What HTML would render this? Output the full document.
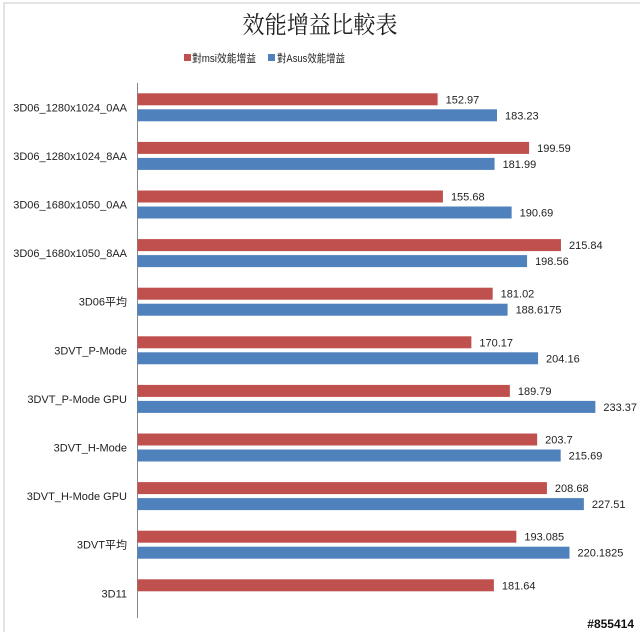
<!DOCTYPE html>
<html><head><meta charset="utf-8"><style>
body{margin:0;background:#fff;}
svg{display:block;font-family:"Liberation Sans","Noto Sans CJK TC",sans-serif;}
</style></head><body>
<svg width="640" height="632" viewBox="0 0 640 632">
<rect x="4" y="3" width="640" height="640" fill="#fff" stroke="#c8c8c8"/>
<text x="320" y="33" text-anchor="middle" font-size="24" textLength="155" lengthAdjust="spacingAndGlyphs" font-family="'Noto Serif CJK SC','Noto Sans CJK TC',serif" fill="#222">效能增益比較表</text>
<g>
<rect x="184" y="54" width="7" height="7" fill="#c0504d"/>
<text x="192" y="62" font-size="11" textLength="64" lengthAdjust="spacingAndGlyphs" fill="#222">對msi效能增益</text>
<rect x="268" y="54" width="7" height="7" fill="#4f81bd"/>
<text x="277" y="62" font-size="11" textLength="68" lengthAdjust="spacingAndGlyphs" fill="#222">對Asus效能增益</text>
</g>
<line x1="137.5" y1="83" x2="137.5" y2="618" stroke="#888"/>
<g id="bars"></g>
<text x="634" y="628" text-anchor="end" font-size="12" font-weight="bold" fill="#111">#855414</text>
</svg>
<script>
const categories=["3D06_1280x1024_0AA","3D06_1280x1024_8AA","3D06_1680x1050_0AA","3D06_1680x1050_8AA","3D06平均","3DVT_P-Mode","3DVT_P-Mode GPU","3DVT_H-Mode","3DVT_H-Mode GPU","3DVT平均","3D11"];
const msiValues=[152.97,199.59,155.68,215.84,181.02,170.17,189.79,203.7,208.68,193.085,181.64];
const asusValues=[183.23,181.99,190.69,198.56,188.6175,204.16,233.37,215.69,227.51,220.1825,null];
const msiLabels=["152.97","199.59","155.68","215.84","181.02","170.17","189.79","203.7","208.68","193.085","181.64"];
const asusLabels=["183.23","181.99","190.69","198.56","188.6175","204.16","233.37","215.69","227.51","220.1825",""];
const NS="http://www.w3.org/2000/svg";
const x0=137.5, k=1.962;
const xScale=v=>x0+v*k;
const yTop=83, band=48.6;
const yCenter=i=>yTop+band*(i+0.5);
const g=document.getElementById('bars');
function mk(tag,attrs){const e=document.createElementNS(NS,tag);for(const a in attrs)e.setAttribute(a,attrs[a]);return e;}
categories.forEach((c,i)=>{
  const cy=yCenter(i);
  const t=mk('text',{x:127,y:cy+4,'text-anchor':'end','font-size':11,fill:'#222'});
  
  
  t.textContent=c;g.appendChild(t);
  const series=[[msiValues[i],msiLabels[i],'#c0504d',cy-14,'bar-msi'],[asusValues[i],asusLabels[i],'#4f81bd',cy+2,'bar-asus']];
  series.forEach(s=>{
    if(s[0]==null)return;
    const r=mk('rect',{x:x0,y:s[3],width:xScale(s[0])-x0,height:12,fill:s[2]});
    
    
    g.appendChild(r);
    const l=mk('text',{x:xScale(s[0])+8,y:s[3]+10,'font-size':11,fill:'#222'});
    
    
    l.textContent=s[1];g.appendChild(l);
  });
});
</script>
</body></html>
